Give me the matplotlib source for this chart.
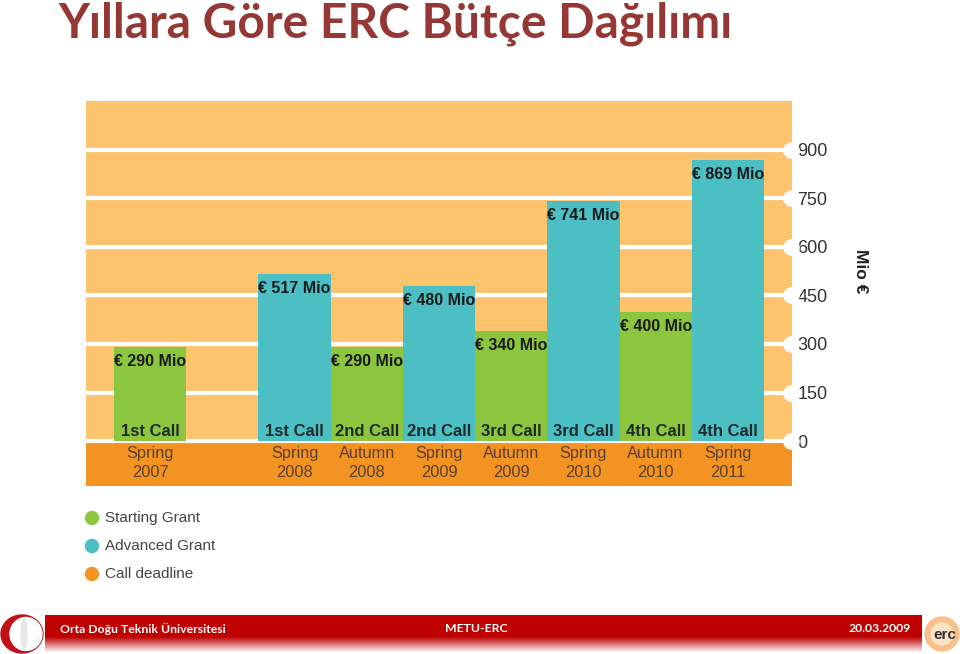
import numpy as np
import matplotlib.pyplot as plt
from matplotlib.patches import Ellipse, Circle
from matplotlib.transforms import blended_transform_factory

# chart data
slots = [0, 2, 3, 4, 5, 6, 7, 8]
budget = [290, 517, 290, 480, 340, 741, 400, 869]
grant = ["Starting", "Advanced", "Starting", "Advanced",
         "Starting", "Advanced", "Starting", "Advanced"]
calls = ["1st Call", "1st Call", "2nd Call", "2nd Call",
         "3rd Call", "3rd Call", "4th Call", "4th Call"]
deadlines = ["Spring\n2007", "Spring\n2008", "Autumn\n2008", "Spring\n2009",
             "Autumn\n2009", "Spring\n2010", "Autumn\n2010", "Spring\n2011"]
yticks = [0, 150, 300, 450, 600, 750, 900]
legend_names = ["Starting Grant", "Advanced Grant", "Call deadline"]

green = "#8CC63E"
teal = "#4CBFC4"
band = "#F39321"
bg = "#FDC46D"
colors = {"Starting": green, "Advanced": teal}
sans = ["Liberation Sans", "DejaVu Sans"]

W, H = 960, 654
fig = plt.figure(figsize=(9.6, 6.54), dpi=100)

# main chart, placed in pixels
x0, x1, y0, y1 = 86, 792, 101, 486
ax = fig.add_axes([x0 / W, 1 - y1 / H, (x1 - x0) / W, (y1 - y0) / H])
ax.set_facecolor(bg)
ax.set_xlim(-0.888, 8.888)
ax.set_ylim(-139, 1051)
for s in ax.spines.values():
    s.set_visible(False)

ax.axhspan(-139, 0, color=band, zorder=1)
for t in yticks:
    ax.axhline(t, color="white", lw=3, zorder=2)

bar_cols = [colors[g] for g in grant]
ax.bar(slots, budget, width=1.0, color=bar_cols, zorder=3)

for xs, v, c, d in zip(slots, budget, calls, deadlines):
    ax.annotate("€ %d Mio" % v, (xs, v), xytext=(0, -10.5), textcoords="offset points",
                ha="center", va="center", fontsize=11.5, fontweight="bold",
                family=sans, color="#1a1a1a", zorder=5)
    ax.text(xs, 31, c, ha="center", va="center", fontsize=12, fontweight="bold",
            family=sans, color="#1f2a2a", zorder=5)
    ax.text(xs, -68, d, ha="center", va="center", fontsize=11.8, family=sans,
            color="#5a4030", linespacing=1.35, zorder=5)

# right hand ticks with white tabs
ax.set_xticks([])
ax.yaxis.tick_right()
ax.set_yticks(yticks)
ax.set_yticklabels([str(t) for t in yticks], family=sans, fontsize=13, color="#333333")
ax.tick_params(axis="y", length=0, pad=4)
tr = blended_transform_factory(ax.transAxes, ax.transData)
ax.plot([0.999] * len(yticks), yticks, "o", ms=11, color="white", mec="white",
        transform=tr, clip_on=False, zorder=4)
ax.text(1.097, 526, "Mio €", rotation=-90, transform=tr, ha="center", va="center",
        fontsize=12.5, fontweight="bold", family=sans, color="#222222")

# decoration layer in pixel coordinates
ov = fig.add_axes([0, 0, 1, 1], zorder=-1)
ov.set_xlim(0, W)
ov.set_ylim(H, 0)
ov.axis("off")

fig.text(58 / W, 1 - 24 / H, "Yıllara Göre ERC Bütçe Dağılımı", ha="left", va="center",
         fontsize=34.5, fontweight="bold", family=["Lato", "DejaVu Sans"], color="#953735")

# legend
leg_cols = [green, teal, band]
for i, (nm, cl) in enumerate(zip(legend_names, leg_cols)):
    yy = 518 + 28 * i
    ov.add_patch(Circle((92, yy), 6.5, color=cl))
    ov.text(105, yy, nm, ha="left", va="center", fontsize=11, family=sans, color="#444444")

# footer bar with fade
grad = np.ones((40, 2, 3))
top = np.array([0.75, 0.0, 0.0])
for r in range(40):
    f = 0.0 if r < 22 else min(1.0, (r - 22) / 16)
    grad[r, :, :] = top * (1 - f) + np.array([1, 1, 1]) * f
ov.imshow(grad, extent=(45, 922, 654, 615), aspect="auto", zorder=1)
ov.set_xlim(0, W)
ov.set_ylim(H, 0)
foot = dict(fontsize=8.8, fontweight="bold", color="white", va="center",
            family=["Lato", "DejaVu Sans"], zorder=3)
ov.text(60, 629, "Orta Doğu Teknik Üniversitesi", ha="left", **foot)
ov.text(476, 629, "METU-ERC", ha="center", **foot)
ov.text(911, 629, "20.03.2009", ha="right", **foot)

# METU logo
ov.add_patch(Ellipse((22, 634), 42, 38, color="#C0101A", zorder=2))
ov.add_patch(Ellipse((26, 634), 32, 33, color="white", zorder=3))
ov.add_patch(Ellipse((24, 634), 6, 30, color="#E8E8E8", zorder=4))
# erc logo
ov.add_patch(Circle((942, 634), 17, color="#F7C08A", zorder=2))
ov.add_patch(Circle((942, 634), 11, color="#FBE3C8", zorder=2))
ov.text(945, 635, "erc", ha="center", va="center", fontsize=11, fontweight="bold",
        family=sans, color="#333333", zorder=3)

fig.savefig("out.png", dpi=100)
